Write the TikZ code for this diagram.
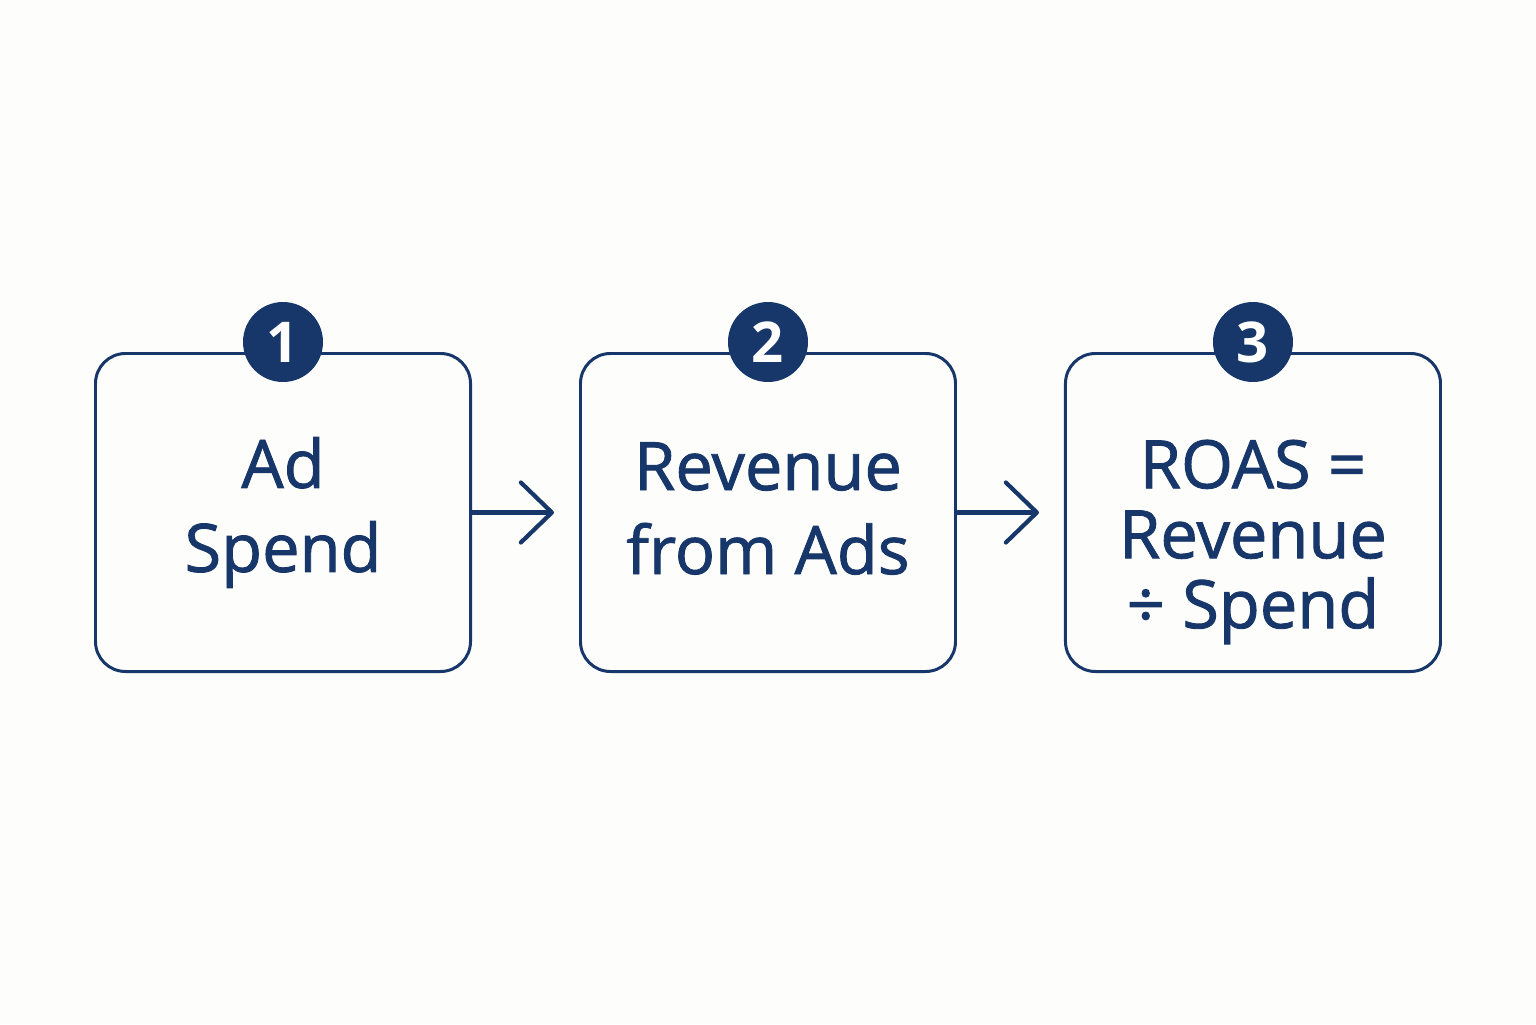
\documentclass[tikz,border=0pt]{standalone}
\usepackage{fontspec}
\setmainfont{Open Sans}
\newfontfamily\medfont{Open Sans}[FakeBold=1.3]
\usetikzlibrary{positioning, arrows.meta}
\definecolor{navy}{RGB}{23, 55, 106}
\definecolor{paper}{RGB}{253, 253, 251}
\tikzset{
  stepbox/.style = {draw = navy, line width = 1.7pt, rounded corners = 0.6cm,
    minimum width = 7.5cm, minimum height = 6.36cm, inner sep = 0pt},
  numdot/.style = {circle, fill = navy, minimum size = 1.6cm, inner sep = 0pt,
    text = white, font = \fontsize{32}{32}\selectfont\bfseries},
  steptext/.style = {text = navy, align = center, font = \medfont\fontsize{38}{47.8}\selectfont},
  flow/.style = {navy, line width = 2.4pt, line cap = round,
    -{Straight Barb[length = 0.62cm, width = 1.2cm, line width = 2.4pt, round]}}
}
\begin{document}
\begin{tikzpicture}
\fill[paper] (0,0) rectangle (30.72,20.48);
\useasboundingbox (0,0) rectangle (30.72,20.48);
% the three boxes
\node[stepbox] (spend) at (5.66,10.23) {};
\node[stepbox, right = 2.14cm of spend] (revenue) {};
\node[stepbox, right = 2.14cm of revenue] (roas) {};
% numbers
\node[numdot] (one) at ([yshift = 0.2cm]spend.north) {1};
\node[numdot] (two) at ([yshift = 0.2cm]revenue.north) {2};
\node[numdot] (three) at ([yshift = 0.2cm]roas.north) {3};
% texts
\node[steptext] (spendtext) at (spend.center) {Ad\\Spend};
\node[steptext] (revenuetext) at ([yshift = 0.08cm]revenue.center) {Revenue\\from Ads};
\node[steptext, font = \medfont\fontsize{38}{39.8}\selectfont] (roastext) at ([yshift = -0.59cm]roas.center) {ROAS =\\Revenue\\÷ Spend};
% arrows
\draw[flow] (spend.east) -- ([xshift = -0.5cm]revenue.west);
\draw[flow] (revenue.east) -- ([xshift = -0.5cm]roas.west);
\end{tikzpicture}
\end{document}
